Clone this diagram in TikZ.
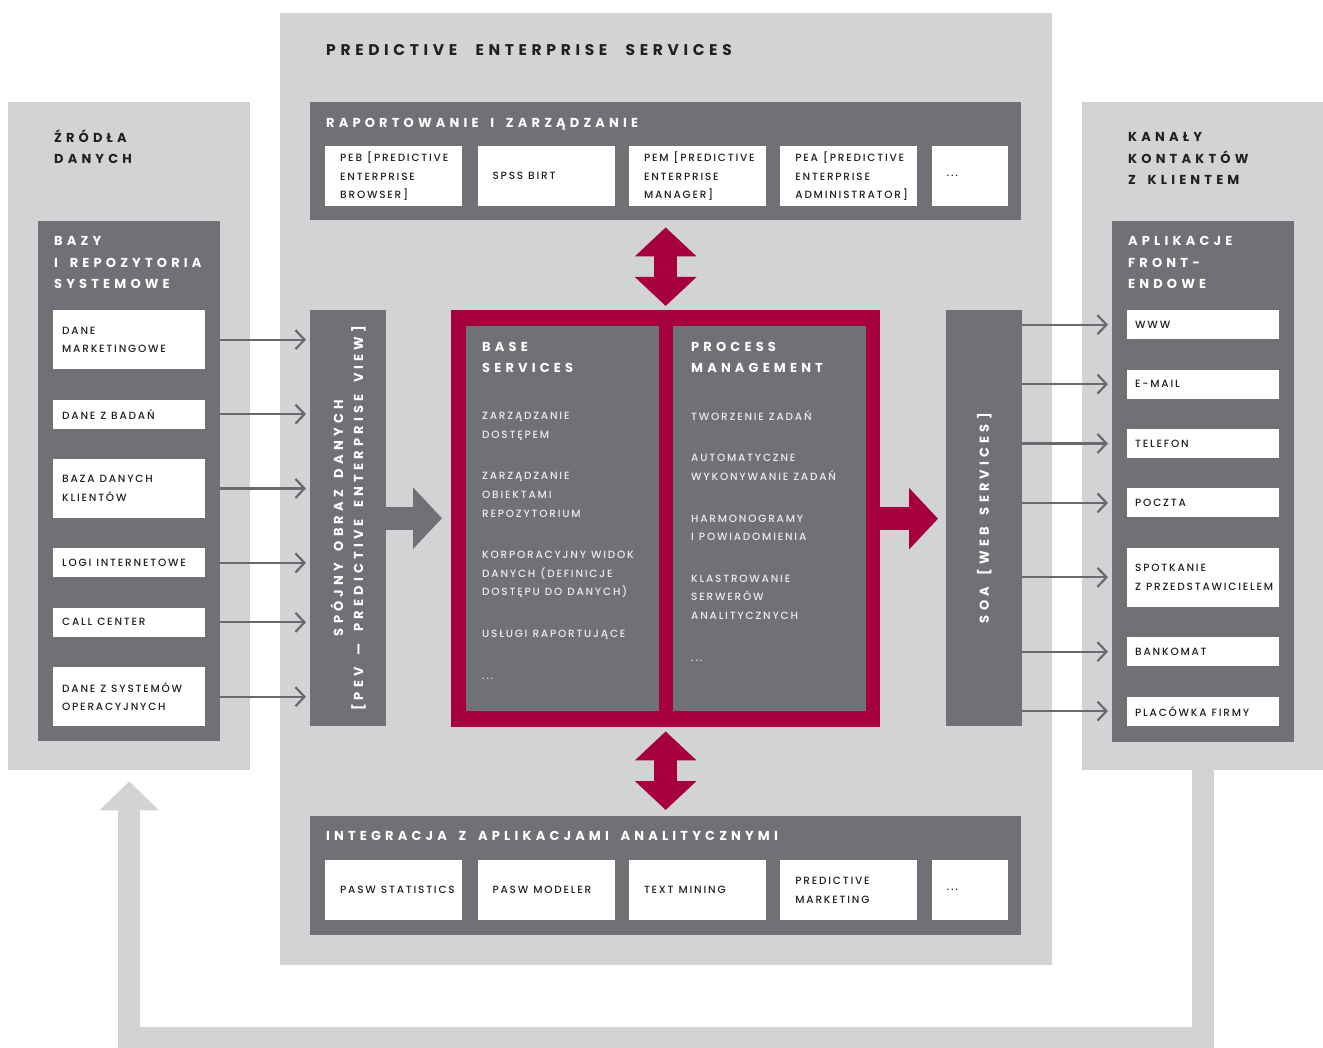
\documentclass[tikz,border=0pt]{standalone}
\usepackage{fontspec}
\setmainfont{Poppins}
\newfontfamily\bodyfont[LetterSpace=17]{Poppins Medium}
\newfontfamily\headfont[LetterSpace=32, WordSpace=1.7]{Poppins}
\newfontfamily\bigheadfont[LetterSpace=30, WordSpace=2.3]{Poppins}
\usetikzlibrary{arrows.meta, positioning}
\definecolor{pnlgray}{RGB}{209,211,212}
\definecolor{drkgray}{RGB}{112,113,117}
\definecolor{arrgray}{RGB}{105,106,110}
\definecolor{pesred}{RGB}{166,0,60}
\definecolor{inkblack}{RGB}{35,31,32}
\definecolor{softwhite}{RGB}{236,236,237}
\tikzset{
backpanel/.style={fill=pnlgray, anchor=north west, inner sep=0pt}, % light gray back panels
darkpanel/.style={fill=drkgray, anchor=north west, inner sep=0pt}, % dark gray panels
entrybox/.style={fill=white, anchor=north west, inner ysep=0pt, align=left, text=inkblack,
  font=\bodyfont\fontsize{10.5}{18.5}\selectfont,
  execute at begin node={\hyphenpenalty=10000\relax\spaceskip=5pt\relax}}, % white boxes with one entry
leftentry/.style={entrybox, inner xsep=9pt, text width=134pt}, % data sources
rightentry/.style={entrybox, inner xsep=8pt, text width=136pt}, % contact channels
appentry/.style={entrybox, inner xsep=15pt, text width=107pt, minimum height=60pt}, % applications
paneltitle/.style={anchor=base west, inner sep=0pt, align=left, text=inkblack,
  font=\headfont\bfseries\fontsize{13}{21.5}\selectfont}, % titles on light panels (base = last line)
darktitle/.style={paneltitle, text=white,
  font=\headfont\bfseries\fontsize{13}{21.75}\selectfont}, % titles on dark panels
listtext/.style={anchor=base west, inner sep=0pt, align=left, text=softwhite,
  font=\bodyfont\fontsize{10.5}{18.6}\selectfont,
  execute at begin node={\spaceskip=5pt\relax}}, % lists in the red frame
feedarrow/.style={arrgray, line width=2.2pt, -{Straight Barb[length=9pt, width=19pt]}, shorten >=4pt}, % thin arrows
flowarrow/.style={line width=23pt, -{Triangle[length=29pt, width=60pt]}}, % thick arrows
twoway/.style={line width=23pt, {Triangle[length=29pt, width=60pt]}-{Triangle[length=29pt, width=60pt]}}, % double arrows
loopback/.style={draw=pnlgray, line width=22pt, -{Triangle[length=29pt, width=58pt]}}, % return arrow
}

\begin{document}
\begin{tikzpicture}[x=1pt, y=-1pt]
  \useasboundingbox (0,0) rectangle (1323,1048);

  % Panels
  \node[backpanel, minimum width=242pt, minimum height=668pt] (zrodla) at (8,102) {};
  \node[backpanel, minimum width=772pt, minimum height=952pt] (pes) at (280,13) {};
  \node[backpanel, minimum width=241pt, minimum height=668pt] (kanaly) at (1082,102) {};
  \node[darkpanel, minimum width=182pt, minimum height=520pt] (bazy) at (38,221) {};
  \node[darkpanel, minimum width=182pt, minimum height=521pt] (frontend) at (1112,221) {};
  \node[darkpanel, minimum width=711pt, minimum height=118pt] (raport) at (310,102) {};
  \node[darkpanel, minimum width=711pt, minimum height=119pt] (integr) at (310,816) {};
  \node[darkpanel, minimum width=76pt, minimum height=416pt] (pev) at (310,310) {};
  \node[darkpanel, minimum width=76pt, minimum height=416pt] (soa) at (946,310) {};
  \node[darkpanel, fill=pesred, minimum width=429pt, minimum height=417pt] (core) at (451,310) {};
  \node[darkpanel, minimum width=193pt, minimum height=385pt] (base) at (466,326) {};
  \node[darkpanel, minimum width=193pt, minimum height=385pt] (process) at (673,326) {};

  % Titles
  \node[paneltitle] (zrodlat) at (54,164) {ŹRÓDŁA\\DANYCH};
  \node[paneltitle, font=\bigheadfont\bfseries\fontsize{15.5}{20}\selectfont] (pest) at (326,56)
    {PREDICTIVE ENTERPRISE SERVICES};
  \node[paneltitle] (kanalyt) at (1128,185) {KANAŁY\\KONTAKTÓW\\Z KLIENTEM};
  \node[darktitle] (bazyt) at (54,289) {BAZY\\I REPOZYTORIA\\SYSTEMOWE};
  \node[darktitle] (frontendt) at (1128,289) {APLIKACJE\\FRONT-\\ENDOWE};
  \node[darktitle] (raportt) at (326,127.5) {RAPORTOWANIE I ZARZĄDZANIE};
  \node[darktitle] (integrt) at (326,840.5) {INTEGRACJA Z APLIKACJAMI ANALITYCZNYMI};
  \node[darktitle] (baset) at (482,373) {BASE\\SERVICES};
  \node[darktitle] (processt) at (691,373) {PROCESS\\MANAGEMENT};
  \node[darktitle, anchor=center, align=center, rotate=90,
    font=\headfont\bfseries\fontsize{13}{20}\selectfont] (pevt) at (pev.center)
    {SPÓJNY OBRAZ DANYCH\\{[}PEV — PREDICTIVE ENTERPRISE VIEW{]}};
  \node[darktitle, anchor=center, rotate=90] (soat) at (soa.center) {SOA [WEB SERVICES]};

  % Lists
  \node[listtext] (basel) at (482,679) {ZARZĄDZANIE\\DOSTĘPEM\\[23pt]ZARZĄDZANIE\\OBIEKTAMI\\REPOZYTORIUM\\[23pt]KORPORACYJNY WIDOK\\DANYCH (DEFINICJE\\DOSTĘPU DO DANYCH)\\[23pt]USŁUGI RAPORTUJĄCE\\[23pt]...};
  \node[listtext] (processl) at (691,661) {TWORZENIE ZADAŃ\\[23pt]AUTOMATYCZNE\\WYKONYWANIE ZADAŃ\\[23pt]HARMONOGRAMY\\I POWIADOMIENIA\\[23pt]KLASTROWANIE\\SERWERÓW\\ANALITYCZNYCH\\[23pt]...};

  % Sources
  \node[leftentry, minimum height=59pt] (marketing) at (53,310) {DANE\\MARKETINGOWE};
  \node[leftentry, minimum height=29pt, below=30pt of marketing] (badania) {DANE Z BADAŃ};
  \node[leftentry, minimum height=59pt, below=30pt of badania] (klienci) {BAZA DANYCH\\KLIENTÓW};
  \node[leftentry, minimum height=29pt, below=30pt of klienci] (logi) {LOGI~INTERNETOWE};
  \node[leftentry, minimum height=29pt, below=30pt of logi] (callc) {CALL CENTER};
  \node[leftentry, minimum height=59pt, below=30pt of callc] (operac) {DANE Z SYSTEMÓW\\OPERACYJNYCH};

  % Channels
  \node[rightentry, minimum height=29pt] (www) at (1127,310) {WWW};
  \node[rightentry, minimum height=29pt, below=30pt of www] (email) {E-MAIL};
  \node[rightentry, minimum height=29pt, below=30pt of email] (telefon) {TELEFON};
  \node[rightentry, minimum height=29pt, below=30pt of telefon] (poczta) {POCZTA};
  \node[rightentry, minimum height=59pt, below=30pt of poczta] (spotkanie) {SPOTKANIE\\Z~PRZEDSTAWICIELEM};
  \node[rightentry, minimum height=29pt, below=30pt of spotkanie] (bankomat) {BANKOMAT};
  \node[rightentry, minimum height=29pt, below=30pt of bankomat] (placowka) {PLACÓWKA FIRMY};

  % Applications
  \node[appentry] (peb) at (325,146) {PEB [PREDICTIVE\\ENTERPRISE\\BROWSER]};
  \node[appentry, right=15pt of peb] (birt) {SPSS BIRT};
  \node[appentry, right=14pt of birt] (pem) {PEM [PREDICTIVE\\ENTERPRISE\\MANAGER]};
  \node[appentry, right=14pt of pem] (pea) {PEA [PREDICTIVE\\ENTERPRISE\\ADMINISTRATOR]};
  \node[appentry, text width=46pt, right=14pt of pea] (moreapp) {...};
  \node[appentry] (stat) at (325,860) {PASW~STATISTICS};
  \node[appentry, right=15pt of stat] (modeler) {PASW~MODELER};
  \node[appentry, right=14pt of modeler] (mining) {TEXT~MINING};
  \node[appentry, right=14pt of mining] (predm) {PREDICTIVE\\MARKETING};
  \node[appentry, text width=46pt, right=14pt of predm] (moretool) {...};

  % Connections
  \path[feedarrow]
    (marketing.east -| bazy.east) edge (marketing.east -| pev.west)
    (badania.east -| bazy.east) edge (badania.east -| pev.west)
    (klienci.east -| bazy.east) edge (klienci.east -| pev.west)
    (logi.east -| bazy.east) edge (logi.east -| pev.west)
    (callc.east -| bazy.east) edge (callc.east -| pev.west)
    (operac.east -| bazy.east) edge (operac.east -| pev.west);
  \path[feedarrow]
    (www.west -| soa.east) edge (www.west -| frontend.west)
    (email.west -| soa.east) edge (email.west -| frontend.west)
    (telefon.west -| soa.east) edge (telefon.west -| frontend.west)
    (poczta.west -| soa.east) edge (poczta.west -| frontend.west)
    (spotkanie.west -| soa.east) edge (spotkanie.west -| frontend.west)
    (bankomat.west -| soa.east) edge (bankomat.west -| frontend.west)
    (placowka.west -| soa.east) edge (placowka.west -| frontend.west);
  \draw[flowarrow, drkgray, shorten >=9pt] (pev.east) -- (pev.east -| core.west);
  \draw[flowarrow, pesred, shorten >=8pt] (core.east) -- (core.east -| soa.west);
  \draw[twoway, pesred, shorten <=7pt, shorten >=4pt] (raport.south -| core.north) -- (core.north);
  \draw[twoway, pesred, shorten <=4pt, shorten >=6pt] (core.south) -- (integr.north -| core.south);
  \draw[loopback] (kanaly.south) -- ++(0,268) -| ([yshift=-11pt]zrodla.south);
\end{tikzpicture}
\end{document}
